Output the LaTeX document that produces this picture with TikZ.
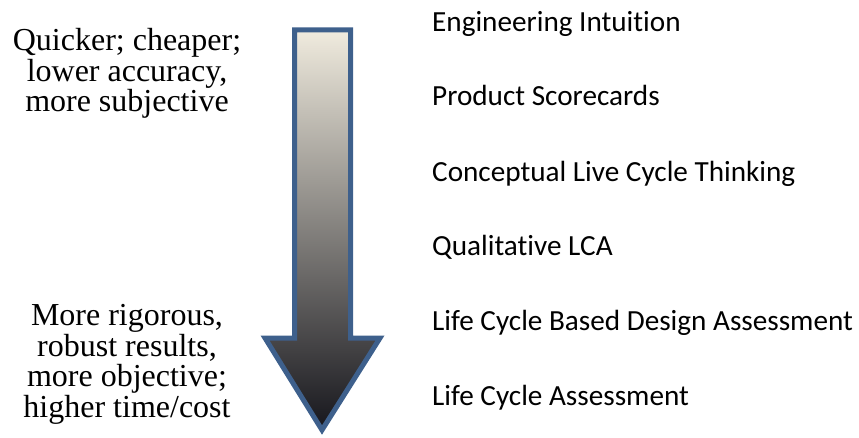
\documentclass[tikz,border=0pt]{standalone}
\usepackage{fontspec}
\setmainfont{Liberation Serif}
\newfontfamily\carlito[Ligatures=NoCommon]{Carlito}

\definecolor{arrowrim}{RGB}{62,96,140}
\definecolor{arrowtop}{RGB}{240,235,222}
\definecolor{arrowmid}{RGB}{178,172,162}
\definecolor{arrowbot}{RGB}{22,22,28}

\begin{document}
\begin{tikzpicture}[x=1pt,y=-1pt,
    method/.style={anchor=base west, inner sep=0pt, font=\carlito\fontsize{29.2}{34}\selectfont},
    tradeoff/.style={anchor=north, inner sep=0pt, align=center, font=\fontsize{32}{30.7}\selectfont}]
  \useasboundingbox (0,0) rectangle (859,438);
  % the big arrow
  \shade[top color=arrowtop, middle color=arrowmid, bottom color=arrowbot]
    (294.5,30) -- (350.5,30) -- (350.5,338) -- (380,338) -- (322,430)
    -- (265,338) -- (294.5,338) -- cycle;
  \draw[arrowrim, line width=5pt, line join=miter]
    (294.5,30) -- (350.5,30) -- (350.5,338) -- (380,338) -- (322,430)
    -- (265,338) -- (294.5,338) -- cycle;
  % left: trade-offs
  \node[tradeoff] (quick) at (127,28) {Quicker; cheaper;\\lower accuracy,\\more subjective};
  \node[tradeoff] (rigor) at (127,304) {More rigorous,\\robust results,\\more objective;\\higher time/cost};
  % right: methods
  \node[method] (eng)  at (432,32)  {Engineering Intuition};
  \node[method] (prod) at (432,106) {Product Scorecards};
  \node[method] (clct) at (432,182) {Conceptual Live Cycle Thinking};
  \node[method] (qlca) at (432,256) {Qualitative LCA};
  \node[method] (lcbd) at (432,330) {Life Cycle Based Design Assessment};
  \node[method] (lca)  at (432,405) {Life Cycle Assessment};
\end{tikzpicture}
\end{document}
